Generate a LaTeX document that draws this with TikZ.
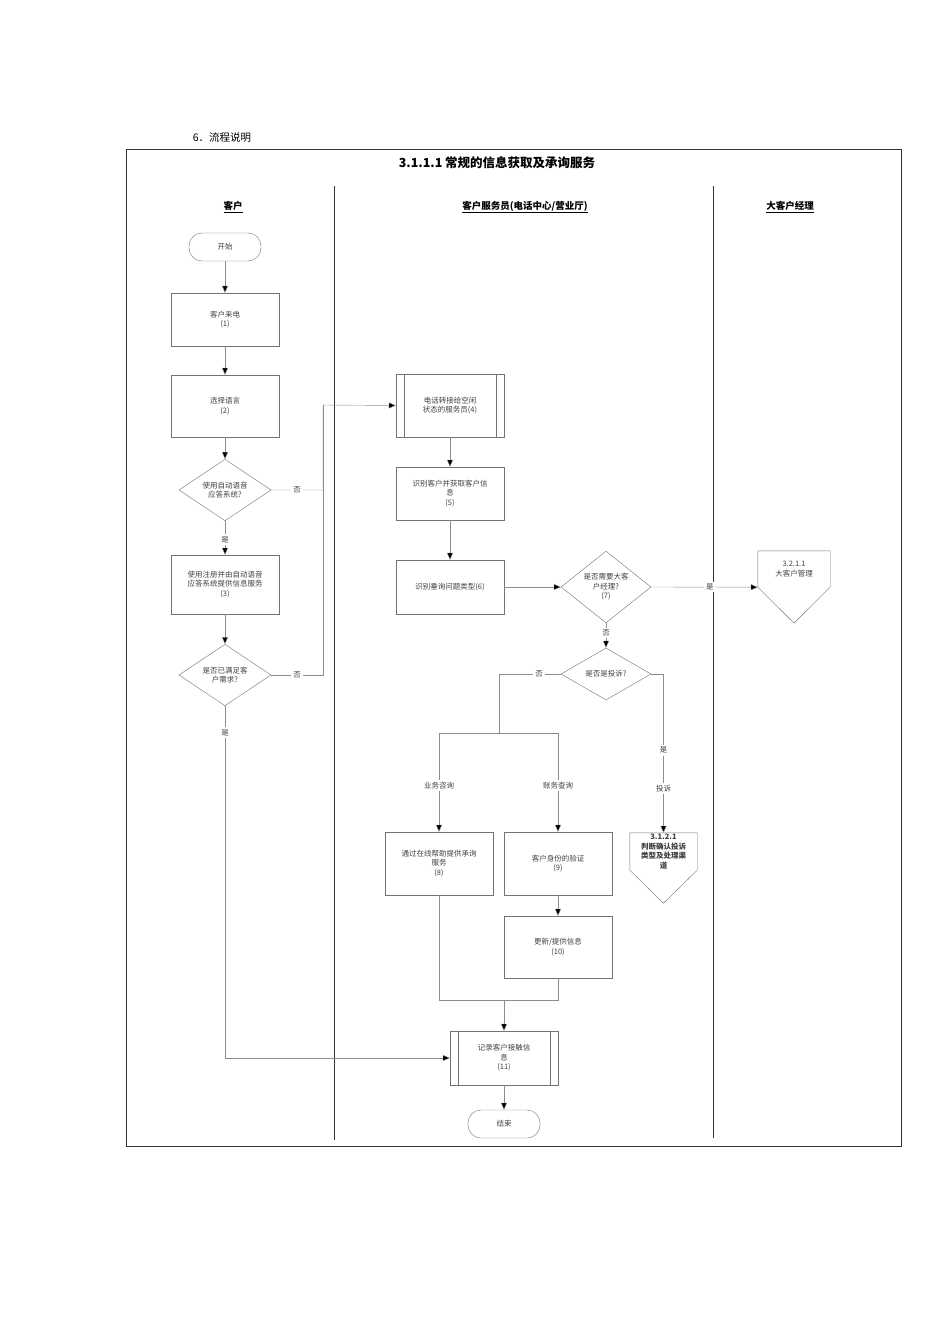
\documentclass[tikz,border=0pt]{standalone}
\usepackage{fontspec}
\setmainfont{Liberation Serif}
\newfontfamily\cjk{Noto Sans CJK SC}
\usetikzlibrary{shapes.geometric,arrows.meta,calc}
\begin{document}
\begin{tikzpicture}[x=1pt,y=-1pt,
  every node/.style={font=\cjk\fontsize{7.5}{9.5}\selectfont,text=black!75,align=center,inner sep=1pt},
  boxn/.style={draw=black!55,minimum width=108,minimum height=#1,text width=104},
  boxn/.default=56,
  term/.style={draw=black!55,rounded corners=13,minimum width=72,minimum height=28},
  dia/.style={draw=black!55,diamond,inner sep=0pt,minimum width=92,minimum height=56},
  lbl/.style={fill=white,inner sep=2pt},
  ln/.style={draw=black!45},
  arr/.style={draw=black!45,-{Triangle[length=7pt,width=6pt,fill=black]}},
  hdr/.style={font=\cjk\fontsize{9.5}{11}\selectfont\bfseries,text=black},
]
\useasboundingbox (0,0) rectangle (950,1344);
\node[font=\cjk\fontsize{10.5}{12}\selectfont,text=black] (sec) at (222,138) {6．流程说明};
\draw[black!80] (126,149) rectangle (901,1146);
\draw[black!80,line width=0.8pt] (126,149) -- (126,1146);
\node[font=\cjk\fontsize{12.5}{14}\selectfont\bfseries,text=black] (title) at (497,163) {3.1.1.1 常规的信息获取及承询服务};
\draw[black!80] (334,186) -- (334,1140);
\draw[black!80] (713,186) -- (713,1138);
\node[hdr] (h1) at (233,207) {\underline{客户}};
\node[hdr] (h2) at (525,207) {\underline{客户服务员(电话中心/营业厅)}};
\node[hdr] (h3) at (790,207) {\underline{大客户经理}};

\node[term] (start) at (225,247) {开始};
\node[boxn=53] (b1) at (225,319.5) {客户来电\\(1)};
\node[boxn=62] (b2) at (225,406) {选择语言\\(2)};
\node[dia] (d1) at (225,490) {使用自动语音\\应答系统?};
\node[boxn=59] (b3) at (225,584.5) {使用注册并由自动语音\\应答系统提供信息服务\\(3)};
\node[dia] (d2) at (225,675) {是否已满足客\\户需求?};

\node[boxn=63] (b4) at (450,405.5) {电话转接给空闲\\状态的服务员(4)};
\draw[black!55] ([xshift=8]b4.north west) -- ([xshift=8]b4.south west);
\draw[black!55] ([xshift=-8]b4.north east) -- ([xshift=-8]b4.south east);
\node[boxn=53] (b5) at (450,493.5) {识别客户并获取客户信\\息\\(5)};
\node[boxn=54] (b6) at (450,587) {识别垂询问题类型(6)};
\node[dia,minimum width=90,minimum height=54] (d3) at (606,587) {是否需要大客\\户经理?\\(7)};
\node[dia,minimum width=90,minimum height=52] (d4) at (606,674) {是否是投诉?};

\node[minimum width=72,minimum height=36] (op1) at (794,569) {3.2.1.1\\大客户管理};
\draw[black!55] (op1.north west) -- (op1.north east) -- (op1.south east) -- ($(op1.south)+(0,36)$) -- (op1.south west) -- cycle;
\node[minimum width=67,minimum height=37,font=\cjk\fontsize{7.5}{9.5}\selectfont\bfseries] (op2) at (663.5,851.5) {3.1.2.1\\判断确认投诉\\类型及处理渠\\道};
\draw[black!55] (op2.north west) -- (op2.north east) -- (op2.south east) -- ($(op2.south)+(0,33)$) -- (op2.south west) -- cycle;

\node[boxn=63] (b8) at (439,863.5) {通过在线帮助提供承询\\服务\\(8)};
\node[boxn=63] (b9) at (558,863.5) {客户身份的验证\\(9)};
\node[boxn=62] (b10) at (558,947) {更新/提供信息\\(10)};
\node[boxn=54] (b11) at (504,1058) {记录客户接触信\\息\\(11)};
\draw[black!55] ([xshift=8]b11.north west) -- ([xshift=8]b11.south west);
\draw[black!55] ([xshift=-8]b11.north east) -- ([xshift=-8]b11.south east);
\node[term] (end) at (504,1124) {结束};

\coordinate (j1) at (323,405);
\coordinate (jy) at (504,1000);
\coordinate (split) at (499,733);

\draw[arr] (start) -- (b1);
\draw[arr] (b1) -- (b2);
\draw[arr] (b2) -- (d1);
\draw[arr] (d1) -- node[lbl,pos=0.55]{是} (b3);
\draw[arr] (b3) -- (d2);
\draw[arr] (d1.east) -- node[lbl,pos=0.5]{否} (d1.east -| j1) -- (j1) -- (b4.west);
\draw[ln] (d2.east) -- node[lbl,pos=0.5]{否} (d2.east -| j1) -- (j1);
\draw[arr] (d2.south) -- node[lbl,pos=0.075]{是} (d2.south |- b11.west) -- (b11.west);
\draw[arr] (b4) -- (b5);
\draw[arr] (b5) -- (b6);
\draw[arr] (b6) -- (d3);
\draw[arr] (d3.east) -- node[lbl,pos=0.55]{是} (op1.south west);
\draw[arr] (d3) -- node[lbl,pos=0.4]{否} (d4);
\draw[ln] (d4.west) -- node[lbl,pos=0.35]{否} (d4.west -| split) -- (split);
\draw[ln] (split -| b8) -- (split -| b9);
\draw[arr] (split -| b8) -- node[lbl,pos=0.53]{业务咨询} (b8);
\draw[arr] (split -| b9) -- node[lbl,pos=0.53]{账务查询} (b9);
\draw[arr] (d4.east) -- (d4.east -| op2) -- node[lbl,pos=0.48]{是} node[lbl,pos=0.72]{投诉} (op2.north);
\draw[arr] (b9) -- (b10);
\draw[ln] (b8) -- (b8 |- jy) -- (b10 |- jy) -- (b10);
\draw[arr] (jy) -- (b11);
\draw[arr] (b11) -- (end);
\end{tikzpicture}
\end{document}
